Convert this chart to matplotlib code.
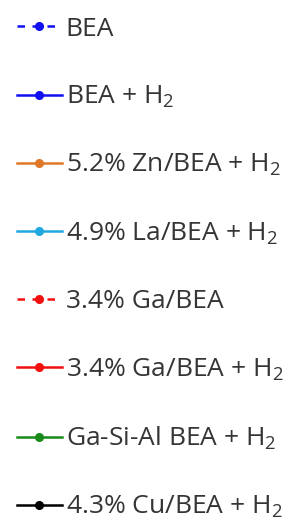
import matplotlib
matplotlib.use("Agg")
import matplotlib.pyplot as plt
from matplotlib.lines import Line2D

plt.rcParams['font.family'] = ['Open Sans', 'DejaVu Sans']
plt.rcParams['mathtext.fontset'] = 'custom'
plt.rcParams['mathtext.rm'] = 'Open Sans'
plt.rcParams['mathtext.it'] = 'Open Sans'

labels = ['BEA', 'BEA + H$_2$', '5.2% Zn/BEA + H$_2$', '4.9% La/BEA + H$_2$',
          '3.4% Ga/BEA', '3.4% Ga/BEA + H$_2$', 'Ga-Si-Al BEA + H$_2$',
          '4.3% Cu/BEA + H$_2$']
colors = ['#1010f0', '#1010f0', '#e0782a', '#20a8e0',
          '#f01010', '#f01010', '#1a8a1a', '#000000']
styles = ['--', '-', '-', '-', '--', '-', '-', '-']

fig = plt.figure(figsize=(2.93, 5.19), dpi=100)

handles = [Line2D([], [], color=c, ls=s, lw=1.8, marker='o', markersize=5.5,
                  dashes=(3, 3) if s == '--' else (None, None))
           for c, s in zip(colors, styles)]

leg = fig.legend(handles, labels, loc='upper left', bbox_to_anchor=(0.058, 0.968),
                 frameon=False, fontsize=19, borderpad=0, borderaxespad=0,
                 handlelength=1.7, handletextpad=0.15, labelspacing=1.6)
for t in leg.get_texts():
    t.set_color('#353535')

fig.savefig('out.png', dpi=100)
